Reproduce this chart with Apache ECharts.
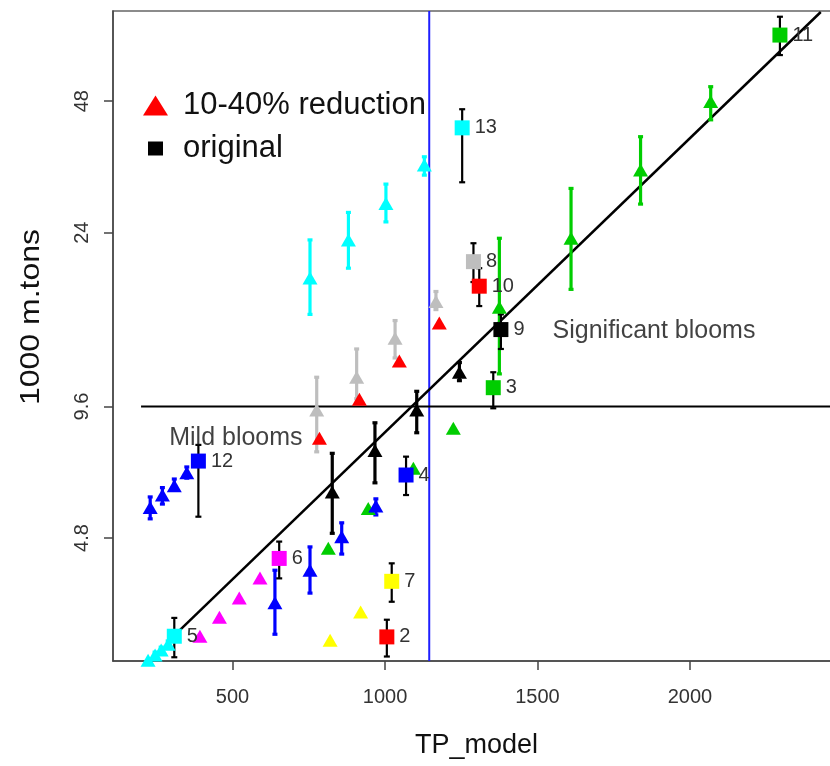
<!DOCTYPE html>
<html>
<head>
<meta charset="utf-8">
<script src="https://cdn.jsdelivr.net/npm/echarts@6/dist/echarts.min.js"></script>
<style>
html, body { margin: 0; padding: 0; background: #fff; }
#chart { width: 830px; height: 766px; }
</style>
</head>
<body>
<div id="chart"></div>
<script>
// axis ranges (y = 1000 m.tons, drawn on a log scale)
var xMin = 108, xMax = 2492;
var yMin = 2.51, yMax = 77.2;
var xTicks = [500, 1000, 1500, 2000];
var yTicks = [4.8, 9.6, 24, 48];
var yTickLabels = ['4.8', '9.6', '24', '48'];

// original runs: one square per site
var siteIds    = [11, 13, 8, 10, 9, 3, 4, 12, 6, 7, 2, 5];
var siteColors = ['#00cd00', '#00ffff', '#bebebe', '#ff0000', '#000000', '#00cd00',
                  '#0000ff', '#0000ff', '#ff00ff', '#ffff00', '#ff0000', '#00ffff'];
var origTP  = [2295, 1253, 1290, 1309, 1380, 1355, 1069, 388, 653, 1022, 1006, 309];
var origVal = [68.0, 41.7, 20.6, 18.1, 14.4, 10.6, 6.69, 7.20, 4.31, 3.82, 2.85, 2.86];
var origLo  = [61.2, 31.3, 18.5, 16.3, 13.0, 9.51, 6.02, 5.37, 3.88, 3.43, 2.57, 2.56];
var origHi  = [74.9, 46.0, 22.7, 19.9, 15.6, 11.5, 7.37, 7.84, 4.71, 4.20, 3.12, 3.15];

// 10-40% reduction runs (triangles)
var triSite = [11, 11, 11, 11, 13, 13, 13, 13, 8, 8, 8, 8, 10, 10, 10, 10, 9, 9, 9, 9,
               3, 3, 3, 3, 4, 4, 4, 4, 12, 12, 12, 12, 6, 6, 6, 6, 7, 7, 5, 5, 5, 5];
var triTP  = [2068, 1838, 1610, 1375, 1129, 1003, 880, 754, 1167, 1033, 907, 776,
              1178, 1047, 916, 785, 1244, 1104, 967, 827, 1224, 1093, 945, 814,
              970, 858, 754, 639, 350, 309, 270, 230, 590, 522, 457, 393, 920, 820,
              289, 266, 246, 223];
var triVal = [47.9, 33.4, 23.3, 16.2, 34.3, 28.0, 23.1, 18.9, 16.7, 13.75, 11.2, 9.42,
              14.9, 12.2, 9.97, 8.12, 11.5, 9.42, 7.61, 6.12, 8.56, 6.93, 5.61, 4.55,
              5.68, 4.83, 4.05, 3.41, 6.77, 6.32, 6.02, 5.64, 3.89, 3.50, 3.16, 2.86,
              3.25, 2.80, 2.74, 2.66, 2.59, 2.52];
var triLo  = [43.5, 27.9, 17.8, 11.4, 32.5, 25.4, 19.9, 15.6, 16.0, 12.4, 10.0, 7.56,
              null, null, null, null, 11.0, 8.36, 6.42, 4.92, null, null, null, null,
              5.42, 4.41, 3.59, 2.89, 6.58, 6.18, 5.74, 5.31, null, null, null, null,
              null, null, 2.69, 2.62, 2.55, null];
var triHi  = [51.8, 39.8, 30.3, 23.3, 35.8, 31.0, 26.7, 23.1, 17.6, 15.1, 13.0, 11.2,
              null, null, null, null, 12.1, 10.4, 8.81, 7.50, null, null, null, null,
              5.90, 5.20, 4.58, 4.05, 6.98, 6.55, 6.26, 5.96, null, null, null, null,
              null, null, 2.79, 2.70, 2.63, null];

// fitted line and thresholds
var fitTP = [328, 2429];
var fitVal = [2.956, 76.8];
var bloomLevel = 9.6;
var bloomStartTP = 200;
var tpLimit = 1145;

// text notes
var noteText = ['Mild blooms', 'Significant blooms'];
var noteTP = [511, 1882];
var noteVal = [8.13, 14.3];

var FONT = '"Liberation Sans", Arial, sans-serif';
var lg = Math.log2;

function colorOf(site) { return siteColors[siteIds.indexOf(site)]; }

var origData = origTP.map(function (tp, i) {
    return { value: [tp, lg(origVal[i])], site: siteIds[i], itemStyle: { color: siteColors[i] } };
});
var origBars = origTP.map(function (tp, i) { return [tp, lg(origLo[i]), lg(origHi[i])]; });

var triData = triTP.map(function (tp, i) {
    return { value: [tp, lg(triVal[i])], itemStyle: { color: colorOf(triSite[i]) } };
});
var triBars = [], triBarColors = [];
triTP.forEach(function (tp, i) {
    if (triLo[i] == null) return;
    triBars.push([tp, lg(triLo[i]), lg(triHi[i])]);
    triBarColors.push(colorOf(triSite[i]));
});

function errorBar(width, cap, colorFn) {
    return function (params, api) {
        var x = api.value(0);
        var p0 = api.coord([x, api.value(1)]);
        var p1 = api.coord([x, api.value(2)]);
        var style = { stroke: colorFn(params.dataIndex), lineWidth: width };
        return {
            type: 'group',
            children: [
                { type: 'line', shape: { x1: p0[0], y1: p0[1], x2: p1[0], y2: p1[1] }, style: style },
                { type: 'line', shape: { x1: p0[0] - cap, y1: p0[1], x2: p0[0] + cap, y2: p0[1] }, style: style },
                { type: 'line', shape: { x1: p1[0] - cap, y1: p1[1], x2: p1[0] + cap, y2: p1[1] }, style: style }
            ]
        };
    };
}

var option = {
    animation: false,
    backgroundColor: '#fff',
    textStyle: { fontFamily: FONT },
    grid: {
        left: 113, top: 11, right: -10, bottom: 105,
        show: true, borderColor: '#666', borderWidth: 1.5,
        outerBoundsMode: 'none'
    },
    legend: {
        orient: 'vertical', left: 138, top: 85,
        itemWidth: 35, itemHeight: 20, itemGap: 12,
        selectedMode: false,
        textStyle: { fontSize: 31, color: '#111', fontFamily: FONT },
        data: [
            { name: '10-40% reduction', icon: 'path://M0,0M35,20M0,20L12.5,0L25,20Z', itemStyle: { color: '#ff0000', opacity: 1 } },
            { name: 'original', icon: 'path://M0,0M35,20M5,3h15v14h-15Z', itemStyle: { color: '#000000', opacity: 1 } }
        ]
    },
    xAxis: {
        type: 'value', min: xMin, max: xMax,
        name: 'TP_model', nameLocation: 'middle', nameGap: 71,
        nameTextStyle: { fontSize: 27, color: '#111', fontFamily: FONT },
        axisLine: { show: true, onZero: false, lineStyle: { color: '#444', width: 1.5 } },
        axisTick: { show: true, length: 9, customValues: xTicks, lineStyle: { color: '#444', width: 1.5 } },
        axisLabel: {
            customValues: xTicks, margin: 26, fontSize: 20, color: '#333', fontFamily: FONT,
            formatter: function (v) { return String(v); }
        },
        splitLine: { show: false }
    },
    yAxis: {
        type: 'value', min: lg(yMin), max: lg(yMax),
        axisLine: { show: true, onZero: false, lineStyle: { color: '#444', width: 1.5 } },
        axisTick: { show: true, length: 9, customValues: yTicks.map(lg), lineStyle: { color: '#444', width: 1.5 } },
        axisLabel: {
            customValues: yTicks.map(lg), rotate: 90, margin: 21,
            fontSize: 20, color: '#333', fontFamily: FONT,
            formatter: function (v) {
                for (var i = 0; i < yTicks.length; i++) {
                    if (Math.abs(lg(yTicks[i]) - v) < 1e-6) return yTickLabels[i];
                }
                return '';
            }
        },
        splitLine: { show: false }
    },
    graphic: [{
        type: 'text', x: 31, y: 317, rotation: Math.PI / 2, scaleY: 0.85,
        style: {
            text: '1000 m.tons', font: '32px ' + FONT, fill: '#111',
            align: 'center', verticalAlign: 'middle',
            textAlign: 'center', textVerticalAlign: 'middle'
        }
    }],
    series: [
        {
            name: 'limit', type: 'line', symbol: 'none', silent: true, z: 1,
            lineStyle: { color: '#1f1fff', width: 2 },
            data: [[tpLimit, lg(yMin)], [tpLimit, lg(yMax)]]
        },
        {
            name: 'bloom level', type: 'line', symbol: 'none', silent: true, z: 1,
            lineStyle: { color: '#000', width: 2 },
            data: [[bloomStartTP, lg(bloomLevel)], [xMax, lg(bloomLevel)]]
        },
        {
            name: 'fit', type: 'line', symbol: 'none', silent: true, z: 1,
            lineStyle: { color: '#000', width: 2.5 },
            data: fitTP.map(function (tp, i) { return [tp, lg(fitVal[i])]; })
        },
        {
            name: 'reduction bars', type: 'custom', z: 2, clip: true,
            renderItem: errorBar(3.2, 2.5, function (i) { return triBarColors[i]; }),
            data: triBars
        },
        {
            name: 'original bars', type: 'custom', z: 2, clip: true,
            renderItem: errorBar(2.2, 3, function () { return '#000'; }),
            data: origBars
        },
        {
            name: '10-40% reduction', type: 'scatter', z: 3,
            symbol: 'triangle', symbolSize: [15, 13],
            itemStyle: { opacity: 1 },
            data: triData
        },
        {
            name: 'original', type: 'scatter', z: 4,
            symbol: 'rect', symbolSize: 15,
            itemStyle: { opacity: 1 },
            label: {
                show: true, position: 'right', distance: 5,
                fontSize: 20, color: '#333', fontFamily: FONT,
                formatter: function (p) { return String(p.data.site); }
            },
            data: origData
        },
        {
            name: 'notes', type: 'scatter', z: 5, silent: true,
            symbolSize: 0,
            label: {
                show: true, position: 'inside',
                fontSize: 25, color: '#111', fontFamily: FONT,
                formatter: function (p) { return noteText[p.dataIndex]; }
            },
            data: noteTP.map(function (tp, i) { return [tp, lg(noteVal[i])]; })
        }
    ]
};

var chart = echarts.init(document.getElementById('chart'));
chart.setOption(option);
</script>
</body>
</html>
